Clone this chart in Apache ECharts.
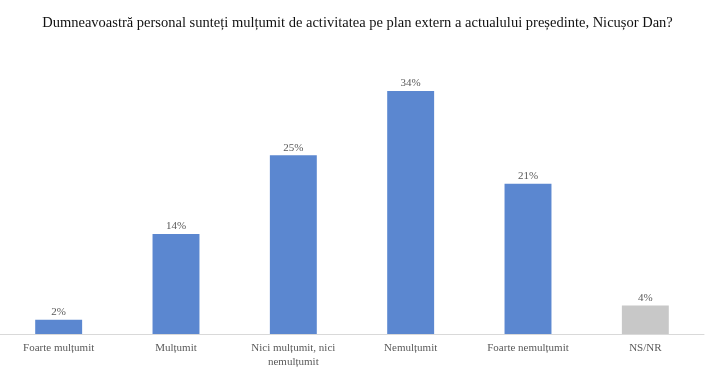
<!DOCTYPE html>
<html>
<head>
<meta charset="utf-8">
<script src="https://cdn.jsdelivr.net/npm/echarts@6/dist/echarts.min.js"></script>
<style>
  html, body { margin: 0; padding: 0; background: #fff; }
  #chart { width: 715px; height: 377px; }
</style>
</head>
<body>
<div id="chart"></div>
<script>
const categories = ["Foarte mulțumit", "Mulțumit", "Nici mulțumit, nici\nnemulțumit", "Nemulțumit", "Foarte nemulțumit", "NS/NR"];
const values = [2, 14, 25, 34, 21, 4];
const barColors = ["#5b87d0", "#5b87d0", "#5b87d0", "#5b87d0", "#5b87d0", "#c8c8c8"];

const chart = echarts.init(document.getElementById("chart"));

const labelFont = "'Liberation Serif', serif";

chart.setOption({
    animation: false,
    title: {
        text: "Dumneavoastră personal sunteți mulțumit de activitatea pe plan extern a actualului președinte, Nicușor Dan?",
        left: "center",
        top: 11,
        textStyle: {
            fontFamily: "'Liberation Serif', serif",
            fontSize: 14.5,
            fontWeight: "normal",
            color: "#111"
        }
    },
    grid: {left: 0, right: 11, top: 48, bottom: 43},
    xAxis: {
        type: "category",
        data: categories,
        axisLine: {lineStyle: {color: "#d9d9d9"}},
        axisTick: {show: false},
        axisLabel: {
            interval: 0,
            margin: 7,
            fontFamily: labelFont,
            fontSize: 11,
            lineHeight: 14,
            color: "#595959"
        }
    },
    yAxis: {
        type: "value",
        min: 0,
        max: 40,
        show: false
    },
    series: [{
        type: "bar",
        barWidth: "40%",
        data: values.map((v, i) => ({value: v, itemStyle: {color: barColors[i]}})),
        label: {
            show: true,
            position: "top",
            distance: 2,
            formatter: "{c}%",
            fontFamily: labelFont,
            fontSize: 11,
            color: "#595959"
        }
    }]
});
</script>
</body>
</html>
